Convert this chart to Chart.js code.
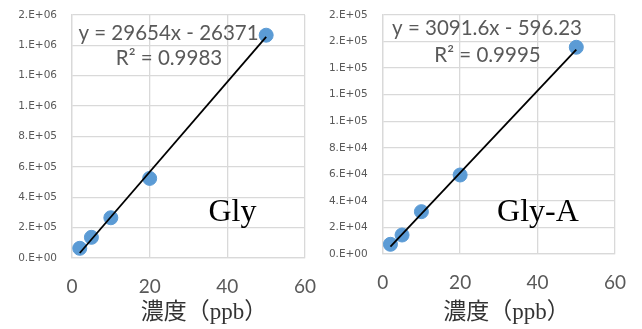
<!DOCTYPE html>
<html><head><meta charset="utf-8">
<script src="https://cdn.jsdelivr.net/npm/chart.js@4/dist/chart.umd.min.js"></script>
<style>
html,body{margin:0;padding:0;background:#fff;}
#w{position:relative;width:642px;height:329px;overflow:hidden;}
canvas{position:absolute;top:0;}
</style></head><body>
<div id="w"><canvas id="c1" width="321" height="329" style="left:0"></canvas><canvas id="c2" width="322" height="329" style="left:320px"></canvas></div>
<script>
// ---- data ----
const concX = [2, 5, 10, 20, 50];               // 濃度 (ppb)
const glyY = [63800, 136000, 265000, 524000, 1467000];
const glyAY = [7300, 14300, 31900, 59500, 155700];
const trendX = [2, 50];
const glyTrend = [32937, 1456329];              // y = 29654x - 26371
const glyATrend = [5587, 153983];               // y = 3091.6x - 596.23
const xTicks = [0, 20, 40, 60];
const glyYMax = 1600000, glyYStep = 200000;
const glyAYMax = 180000, glyAYStep = 20000;
const xTitle = '濃度（ppb）';
const glyEq = 'y = 29654x - 26371', glyR2 = 'R² = 0.9983', glyName = 'Gly';
const glyAEq = 'y = 3091.6x - 596.23', glyAR2 = 'R² = 0.9995', glyAName = 'Gly-A';

function expFmt(v){
  if (Math.abs(v) < 1e-9) return '0.E+00';
  let e = Math.floor(Math.log10(Math.abs(v)) + 1e-9);
  let m = Math.round(v / Math.pow(10, e));
  if (m >= 10) { m = 1; e++; }
  return m + '.E+' + String(e).padStart(2, '0');
}

const textPlugin = {
  id: 'texts',
  afterDraw(chart, args, opts) {
    const ctx = chart.ctx;
    ctx.save();
    (opts.items || []).forEach(t => {
      ctx.font = t.font; ctx.fillStyle = t.color;
      ctx.textAlign = 'center'; ctx.textBaseline = 'middle';
      ctx.fillText(t.text, t.x, t.y);
    });
    ctx.restore();
  }
};

function make(id, ys, trendY, yMax, yStep, yW, xH, padR, padT, items) {
  const pts = concX.map((x, i) => ({x, y: ys[i]}));
  const tr = trendX.map((x, i) => ({x, y: trendY[i]}));
  const grid = {color: '#d9d9d9', lineWidth: 1.3, drawTicks: false};
  const zeroPad = s => { s.paddingLeft = 0; s.paddingRight = 0; s.paddingTop = 0; s.paddingBottom = 0; };
  new Chart(document.getElementById(id), {
    type: 'scatter',
    data: {datasets: [
      {type: 'line', data: tr, borderColor: '#000', borderWidth: 1.8, pointRadius: 0, fill: false, order: 0},
      {data: pts, backgroundColor: '#5b9bd5', borderColor: '#5b9bd5', pointRadius: 7, pointHoverRadius: 7, order: 1}
    ]},
    options: {
      responsive: false, animation: false, devicePixelRatio: 1,
      layout: {padding: {top: padT, right: padR, left: 0, bottom: 0}},
      plugins: {legend: {display: false}, tooltip: {enabled: false}, texts: {items}},
      scales: {
        x: {type: 'linear', min: 0, max: 60,
            afterBuildTicks: s => { s.ticks = xTicks.map(v => ({value: v})); },
            afterFit: s => { s.height = xH; zeroPad(s); },
            grid, border: {color: '#d9d9d9', width: 1.3},
            ticks: {padding: 17, color: '#595959', font: {family: 'Lato', size: 19}}},
        y: {type: 'linear', min: 0, max: yMax,
            afterFit: s => { s.width = yW; zeroPad(s); },
            grid, border: {color: '#d9d9d9', width: 1.3},
            ticks: {stepSize: yStep, padding: 15, color: '#595959', font: {family: 'DejaVu Sans', size: 10.5},
                    callback: v => expFmt(v)}}
      }
    },
    plugins: [textPlugin]
  });
}

const eqFont = '20.5px Lato', nameFont = '32px "Liberation Serif"', titleFont = '23px "Liberation Serif", "Noto Sans CJK JP"';
make('c1', glyY, glyTrend, glyYMax, glyYStep, 72, 71, 16, 15, [
  {text: glyEq, x: 168.5, y: 33, font: eqFont, color: '#595959'},
  {text: glyR2, x: 169, y: 58, font: eqFont, color: '#595959'},
  {text: glyName, x: 232.5, y: 213, font: nameFont, color: '#000'},
  {text: xTitle, x: 204, y: 313, font: titleFont, color: '#333'}
]);
make('c2', glyAY, glyATrend, glyAYMax, glyAYStep, 62.7, 75, 27, 15, [
  {text: glyAEq, x: 167, y: 28, font: eqFont, color: '#595959'},
  {text: glyAR2, x: 167.5, y: 55, font: eqFont, color: '#595959'},
  {text: glyAName, x: 218, y: 213, font: nameFont, color: '#000'},
  {text: xTitle, x: 186.5, y: 313, font: titleFont, color: '#333'}
]);
</script>
</body></html>
